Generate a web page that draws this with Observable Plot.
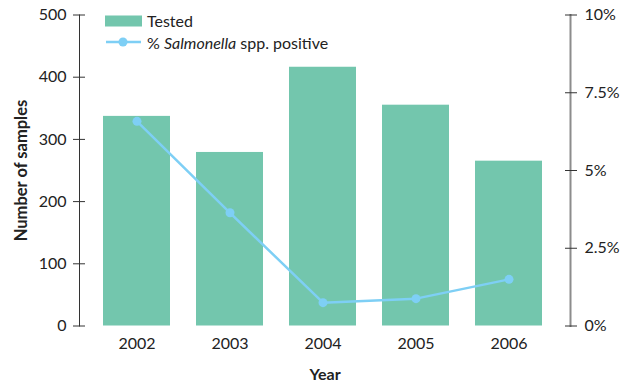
<!DOCTYPE html>
<html>
<head>
<meta charset="utf-8">
<script src="https://cdn.jsdelivr.net/npm/d3@7"></script>
<script src="https://cdn.jsdelivr.net/npm/@observablehq/plot@0.6"></script>
<style>
  body { margin: 0; background: #fff; font-family: Lato, "Open Sans", sans-serif; }
  #chart { position: relative; width: 630px; height: 382px; }
  .legend { position: absolute; left: 105px; top: 0; font-size: 16px; color: #222; }
  .legend .item { position: absolute; left: 0; display: flex; align-items: center; white-space: nowrap; height: 16px; }
  .legend svg { display: block; margin-right: 4px; }
</style>
</head>
<body>
<div id="chart"></div>
<script>
// Samples tested per year and share positive for Salmonella spp.
const years = ["2002", "2003", "2004", "2005", "2006"];
const tested = [337, 279, 416, 355, 265];
const positivePct = [6.58, 3.64, 0.75, 0.88, 1.5];

const sampleTicks = [0, 100, 200, 300, 400, 500];
const pctTicks = [0, 2.5, 5, 7.5, 10];
const pctFactor = 50; // right axis: 10% sits level with 500 samples

const barColor = "#73c6ad";
const lineColor = "#7ecff5";

const rows = years.map((year, i) => ({ year, tested: tested[i], pct: positivePct[i] }));

const chart = Plot.plot({
  width: 630,
  height: 382,
  marginTop: 14.5,
  marginBottom: 56.5,
  marginLeft: 79,
  marginRight: 60,
  style: { fontFamily: "Lato, 'Open Sans', sans-serif", fontSize: "16px", color: "#222", background: "#fff" },
  x: { domain: years, range: [90, 555], paddingInner: 0.28, paddingOuter: 0.14, label: null },
  y: { domain: [0, 500], label: null },
  marks: [
    Plot.barY(rows, { x: "year", y: "tested", fill: barColor }),
    Plot.line(rows, { x: "year", y: d => d.pct * pctFactor, stroke: lineColor, strokeWidth: 2.5 }),
    Plot.dot(rows, { x: "year", y: d => d.pct * pctFactor, r: 4.5, fill: lineColor }),
    Plot.axisX({ tickSize: 0, tickPadding: 12, label: null }),
    // left axis: line plus ticks that cross it
    Plot.frame({ anchor: "left", stroke: "#333" }),
    Plot.axisY(sampleTicks, { anchor: "left", tickSize: 12, dx: 6, tickPadding: 7, stroke: "#333", label: null }),
    // right axis in percent
    Plot.frame({ anchor: "right", stroke: "#8c8c8c", strokeWidth: 2 }),
    Plot.axisY(pctTicks.map(v => v * pctFactor), {
      anchor: "right", tickSize: 12, dx: -6, tickPadding: 8, stroke: "#333", label: null,
      tickFormat: v => `${v / pctFactor}%`
    }),
    Plot.text(["Number of samples"], {
      frameAnchor: "left", dx: -58, rotate: -90, textAnchor: "middle", lineAnchor: "middle",
      fontWeight: "bold", fontSize: 16.5, fill: "#222"
    }),
    Plot.text(["Year"], {
      frameAnchor: "bottom", dy: 49, textAnchor: "middle", lineAnchor: "middle",
      fontWeight: "bold", fontSize: 16, fill: "#222"
    })
  ]
});

const host = document.getElementById("chart");
host.appendChild(chart);

// Legend
const legend = document.createElement("div");
legend.className = "legend";
legend.innerHTML = `
  <div class="item" style="top:12.5px">
    <svg width="38" height="12"><rect x="0" y="0.5" width="37" height="11" fill="${barColor}"></rect></svg>
    <span>Tested</span>
  </div>
  <div class="item" style="top:34px">
    <svg width="38" height="12"><line x1="1" x2="36" y1="6" y2="6" stroke="${lineColor}" stroke-width="2.5"></line><circle cx="18" cy="6" r="4.5" fill="${lineColor}"></circle></svg>
    <span>% <i>Salmonella</i> spp. positive</span>
  </div>`;
host.appendChild(legend);
</script>
</body>
</html>
